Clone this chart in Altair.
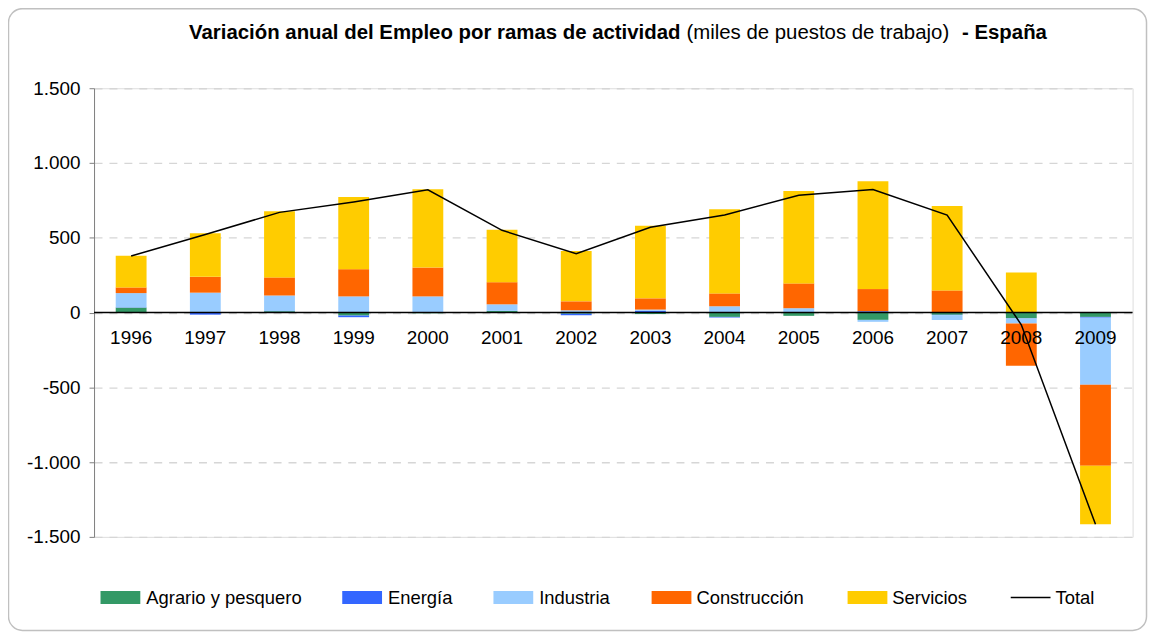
import altair as alt
import pandas as pd

years = [1996, 1997, 1998, 1999, 2000, 2001, 2002, 2003, 2004, 2005, 2006, 2007, 2008, 2009]
sectors = ["Agrario y pesquero", "Energía", "Industria", "Construcción", "Servicios"]
colors = ["#339966", "#3366ff", "#99ccff", "#ff6600", "#ffcc00"]
agrario = [33, -3, 9, -20, -5, 11, -8, -10, -29, -22, -49, -15, -38, -29]
energia = [2, -11, 1, -11, 2, 0, -10, 12, -4, 0, 9, -2, -2, -5]
industria = [95, 133, 104, 108, 106, 44, 15, 8, 42, 29, -13, -33, -33, -448]
construccion = [38, 106, 121, 182, 193, 148, 60, 75, 86, 166, 148, 148, -283, -543]
servicios = [212, 292, 443, 483, 524, 350, 336, 485, 562, 617, 721, 564, 268, -391]
total = [378, 522, 670, 740, 821, 550, 393, 570, 652, 785, 822, 652, -82, -1416]
y_ticks = [-1500, -1000, -500, 0, 500, 1000, 1500]
title_parts = ["Variación anual del Empleo por ramas de actividad", "(miles de puestos de trabajo)", "- España"]
legend_labels = sectors + ["Total"]

series = [agrario, energia, industria, construccion, servicios]
rows = []
for i, (name, vals) in enumerate(zip(sectors, series)):
    for y, v in zip(years, vals):
        rows.append({"year": str(y), "sector": name, "value": v, "idx": i})
df_long = pd.DataFrame(rows)
df_wide = pd.DataFrame({"year": [str(y) for y in years], "total": total})

FONT = "Liberation Sans"
W, H = 1044, 451

xenc = alt.X("year:O", axis=None, scale=alt.Scale(paddingInner=0, paddingOuter=0), sort=None)

bars = alt.Chart(df_long).mark_bar(size=31).encode(
    x=xenc,
    y=alt.Y("value:Q", stack="zero",
            scale=alt.Scale(domain=[-1500, 1500], nice=False, zero=False),
            axis=alt.Axis(values=y_ticks, title=None, grid=True, gridDash=[8, 7],
                          gridColor="#d6d6d6", gridWidth=1.3,
                          domain=True, domainColor="#7f7f7f", domainWidth=1,
                          ticks=True, tickSize=5, tickColor="#7f7f7f",
                          labelFontSize=19, labelFont=FONT, labelColor="#000000",
                          labelPadding=9,
                          labelExpr="replace(replace(format(datum.value, ','), ',', '.'), '\u2212', '-')")),
    color=alt.Color("sector:N", scale=alt.Scale(domain=sectors, range=colors), legend=None),
    order=alt.Order("idx:Q"),
)

one = alt.Data(values=[{}])

zero_rule = alt.Chart(one).mark_rule(color="#000000", strokeWidth=1.5).encode(y=alt.datum(0))

year_text = alt.Chart(df_wide).mark_text(dy=26, fontSize=19, font=FONT, color="#000000",
                                          baseline="middle").encode(
    x=xenc, y=alt.datum(0), text="year:N")

line = alt.Chart(df_wide).mark_line(color="#000000", strokeWidth=1.5).encode(
    x=xenc, y=alt.Y("total:Q"))

border = alt.Chart(one).mark_rect(fillOpacity=0, stroke="#c0c0c0", strokeWidth=1.5,
                                   cornerRadius=14).encode(
    x=alt.value(-86), x2=alt.value(1058), y=alt.value(-80), y2=alt.value(545))

ty = -55
t1 = alt.Chart(one).mark_text(text=title_parts[0], fontSize=20.5, fontWeight="bold", font=FONT,
                              align="left", baseline="middle", color="#000000").encode(
    x=alt.value(95.5), y=alt.value(ty))
t2 = alt.Chart(one).mark_text(text=title_parts[1], fontSize=20.5, font=FONT,
                              align="left", baseline="middle", color="#000000").encode(
    x=alt.value(595.5), y=alt.value(ty))
t3 = alt.Chart(one).mark_text(text=title_parts[2], fontSize=20.5, fontWeight="bold", font=FONT,
                              align="left", baseline="middle", color="#000000").encode(
    x=alt.value(872.5), y=alt.value(ty))

# legend
ly = 512
sw_x = [6.5, 249.5, 401.5, 560.5, 757.5]
txt_x = [52.5, 295.5, 447.5, 605.5, 802.5, 966.5]
leg_layers = []
for i in range(5):
    leg_layers.append(alt.Chart(one).mark_rect(color=colors[i]).encode(
        x=alt.value(sw_x[i]), x2=alt.value(sw_x[i] + 40),
        y=alt.value(ly - 6.5), y2=alt.value(ly + 6.5)))
leg_layers.append(alt.Chart(one).mark_rule(color="#000000", strokeWidth=1.5).encode(
    x=alt.value(921.5), x2=alt.value(961.5), y=alt.value(ly)))
for i, lab in enumerate(legend_labels):
    leg_layers.append(alt.Chart(one).mark_text(text=lab, fontSize=18.5, font=FONT, align="left",
                                               baseline="middle", color="#000000").encode(
        x=alt.value(txt_x[i]), y=alt.value(ly)))

chart = alt.layer(border, bars, zero_rule, year_text, line, t1, t2, t3, *leg_layers).properties(
    width=W, height=H,
    autosize=alt.AutoSizeParams(type="none"),
    padding={"left": 86.5, "top": 79, "right": 16.5, "bottom": 99},
).configure_view(stroke=None).configure(background="#ffffff")

chart.save("out.html", embed_options={"renderer": "svg", "actions": False})
